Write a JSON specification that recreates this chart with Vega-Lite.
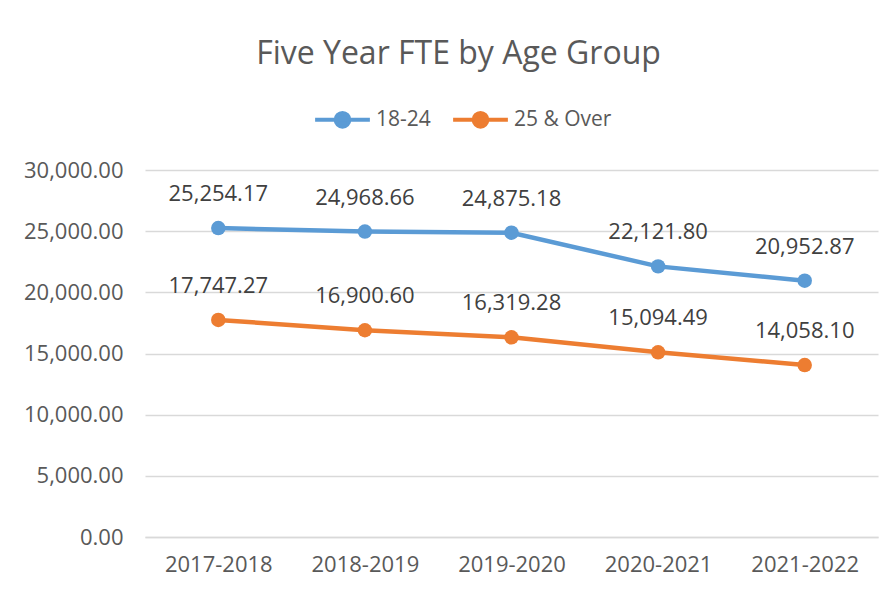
{
  "$schema": "https://vega.github.io/schema/vega-lite/v6.json",
  "width": 733,
  "height": 367,
  "autosize": "none",
  "padding": {"left": 145, "top": 170, "right": 17, "bottom": 53},
  "background": "white",
  "title": {
    "text": "Five Year FTE by Age Group",
    "font": "Open Sans",
    "fontSize": 32,
    "fontWeight": "normal",
    "color": "#595959",
    "dx": -53,
    "offset": 19
  },
  "data": {
    "values": [
      {"year": "2017-2018", "group": "18-24", "fte": 25254.17},
      {"year": "2018-2019", "group": "18-24", "fte": 24968.66},
      {"year": "2019-2020", "group": "18-24", "fte": 24875.18},
      {"year": "2020-2021", "group": "18-24", "fte": 22121.80},
      {"year": "2021-2022", "group": "18-24", "fte": 20952.87},
      {"year": "2017-2018", "group": "25 & Over", "fte": 17747.27},
      {"year": "2018-2019", "group": "25 & Over", "fte": 16900.60},
      {"year": "2019-2020", "group": "25 & Over", "fte": 16319.28},
      {"year": "2020-2021", "group": "25 & Over", "fte": 15094.49},
      {"year": "2021-2022", "group": "25 & Over", "fte": 14058.10}
    ]
  },
  "encoding": {
    "x": {
      "field": "year",
      "type": "ordinal",
      "scale": {"type": "point", "padding": 0.5},
      "axis": {
        "title": null,
        "labelAngle": 0,
        "labelFont": "Open Sans",
        "labelFontSize": 22,
        "labelColor": "#595959",
        "labelPadding": 17,
        "ticks": false,
        "domainColor": "#D9D9D9",
        "domainWidth": 1.5
      }
    },
    "y": {
      "field": "fte",
      "type": "quantitative",
      "scale": {"domain": [0, 30000], "nice": false},
      "axis": {
        "title": null,
        "values": [0, 5000, 10000, 15000, 20000, 25000, 30000],
        "format": ",.2f",
        "labelFont": "Open Sans",
        "labelFontSize": 22,
        "labelColor": "#595959",
        "labelPadding": 22,
        "ticks": false,
        "domain": false,
        "gridColor": "#D9D9D9",
        "gridWidth": 1.5
      }
    },
    "color": {
      "field": "group",
      "type": "nominal",
      "scale": {"domain": ["18-24", "25 & Over"], "range": ["#5B9BD5", "#ED7D31"]},
      "legend": {
        "title": null,
        "orient": "none",
        "direction": "horizontal",
        "legendX": 168,
        "legendY": -80,
        "labelFont": "Open Sans",
        "labelFontSize": 21,
        "labelColor": "#595959",
        "symbolType": "M-1,0H1M0.25,0A0.25,0.25 0 1,1 -0.25,0A0.25,0.25 0 1,1 0.25,0Z",
        "symbolSize": 3000,
        "symbolStrokeWidth": 4,
        "labelOffset": 4,
        "columnPadding": 14
      }
    }
  },
  "layer": [
    {
      "mark": {"type": "line", "strokeWidth": 4.5, "point": {"filled": true, "size": 210}}
    },
    {
      "mark": {"type": "text", "dy": -34, "font": "Open Sans", "fontSize": 22, "color": "#404040"},
      "encoding": {
        "text": {"field": "fte", "type": "quantitative", "format": ",.2f"},
        "color": {"value": "#404040"}
      }
    }
  ],
  "config": {"view": {"stroke": null}}
}
